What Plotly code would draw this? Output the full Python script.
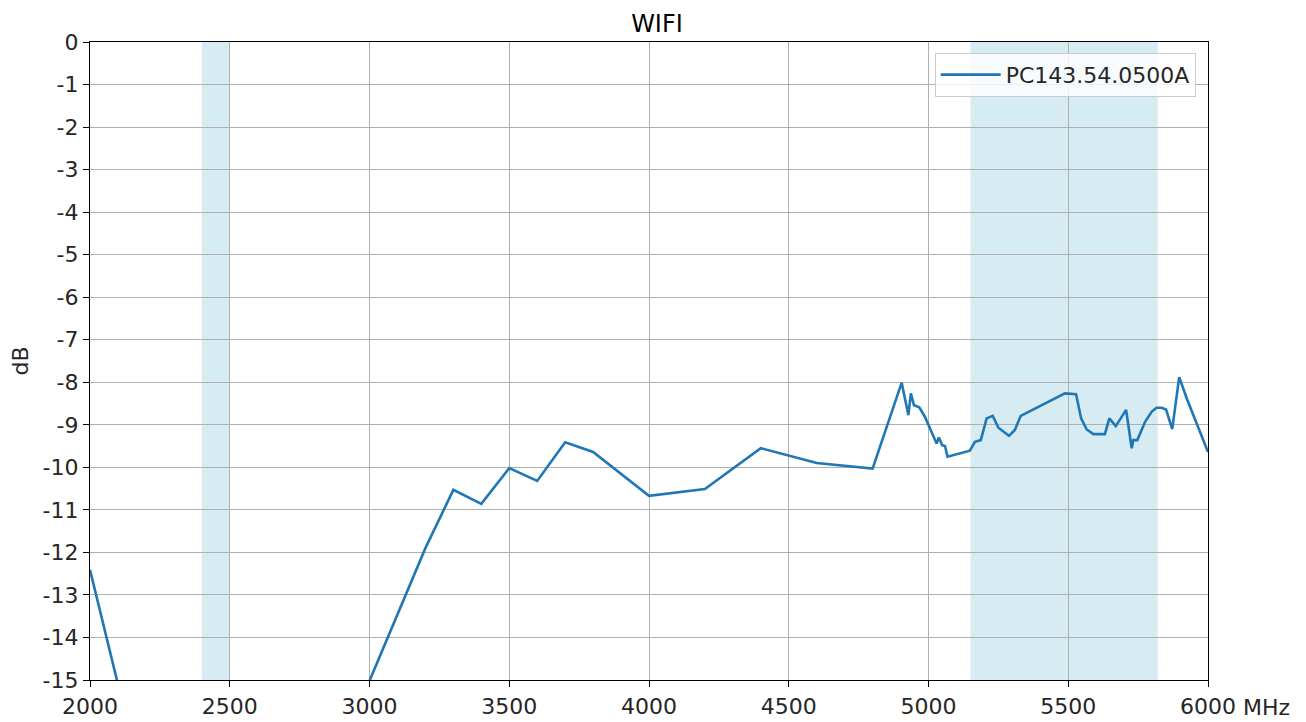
import plotly.graph_objects as go

freq_mhz = [2000, 2100, 2400, 2500, 3000, 3200, 3300, 3400, 3500, 3600, 3700, 3800,
            4000, 4200, 4400, 4600, 4800, 4904, 4928, 4937, 4948, 4967, 4987, 5029,
            5037, 5049, 5059, 5068, 5148, 5166, 5187, 5208, 5230, 5250, 5288, 5309,
            5330, 5488, 5528, 5546, 5566, 5590, 5631, 5647, 5670, 5707, 5727, 5733,
            5747, 5775, 5799, 5816, 5834, 5850, 5872, 5897, 5924, 6000]
gain_db = [-12.41, -15.1, -20.0, -20.0, -15.02, -11.90, -10.53, -10.86, -10.02, -10.32,
           -9.41, -9.64, -10.67, -10.51, -9.55, -9.90, -10.03, -8.01, -8.77, -8.26,
           -8.54, -8.59, -8.81, -9.44, -9.30, -9.48, -9.50, -9.75, -9.61, -9.40,
           -9.36, -8.85, -8.79, -9.07, -9.26, -9.12, -8.79, -8.26, -8.28, -8.85,
           -9.11, -9.22, -9.22, -8.85, -9.03, -8.65, -9.55, -9.36, -9.36, -8.93,
           -8.69, -8.60, -8.60, -8.64, -9.10, -7.88, -8.38, -9.64]
bands = [(2400, 2500), (5150, 5820)]
x_ticks = [2000, 2500, 3000, 3500, 4000, 4500, 5000, 5500, 6000]
y_ticks = list(range(0, -16, -1))
series_name = "PC143.54.0500A"

fig = go.Figure()
fig.add_trace(go.Scatter(x=freq_mhz, y=gain_db, mode="lines", name=series_name,
                         line=dict(color="#1f77b4", width=2.6)))
for a, b in bands:
    fig.add_shape(type="rect", xref="x", yref="paper", x0=a, x1=b, y0=0, y1=1,
                  fillcolor="#d6ebf2", line=dict(width=0), layer="below")

axis_common = dict(showline=True, linecolor="black", linewidth=1.3, mirror=True,
                   ticks="outside", ticklen=6, tickcolor="black", tickwidth=1.3,
                   showgrid=True, gridcolor="#b0b0b0", gridwidth=1.1,
                   zeroline=False, automargin=False,
                   tickfont=dict(size=22, color="#262626"))
fig.update_xaxes(range=[2000, 6000], tickvals=x_ticks,
                 ticktext=[str(v) for v in x_ticks], **axis_common)
fig.update_yaxes(range=[-15, 0], tickvals=y_ticks,
                 ticktext=[str(v) for v in y_ticks],
                 title=dict(text="dB", font=dict(size=22, color="#262626"), standoff=10),
                 **axis_common)
fig.add_annotation(text="MHz", xref="paper", yref="paper", x=1.0, y=0,
                   xshift=33, yshift=-13, showarrow=False, xanchor="left",
                   yanchor="top", font=dict(size=22, color="#262626"))
fig.update_layout(
    width=1298, height=714,
    margin=dict(l=82, r=98, t=34, b=42),
    paper_bgcolor="white", plot_bgcolor="white",
    font=dict(family="DejaVu Sans", color="#262626"),
    title=dict(text="WIFI", x=0.5, xanchor="center", y=0.978, yanchor="middle",
               font=dict(size=24, color="black")),
    showlegend=True,
    legend=dict(x=0.989, y=0.983, xanchor="right", yanchor="top",
                itemwidth=60,
                bgcolor="rgba(255,255,255,0.8)", bordercolor="#cccccc", borderwidth=1,
                font=dict(size=22, color="#262626")),
)
fig.write_html("out.html")
